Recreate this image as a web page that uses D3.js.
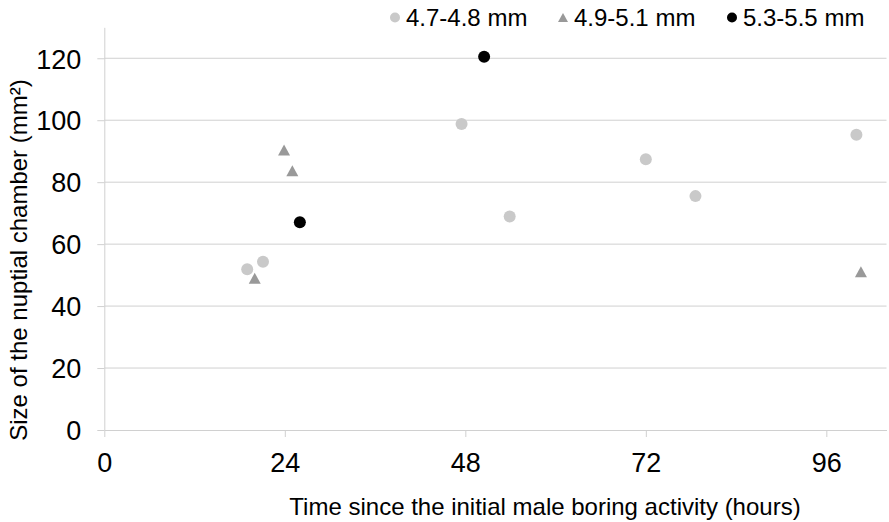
<!DOCTYPE html>
<html>
<head>
<meta charset="utf-8">
<script src="https://cdn.jsdelivr.net/npm/d3@7"></script>
<style>
body{margin:0;background:#fff}
text{font-family:"Liberation Sans",Arial,sans-serif;fill:#000}
</style>
</head>
<body>
<div id="chart"></div>
<script>
var width = 889
var height = 522

// series
var smallX = [19.0, 21.1, 47.5, 53.9, 72.0, 78.6, 100.0]
var smallY = [51.9, 54.3, 98.8, 68.9, 87.4, 75.5, 95.3]
var midX = [20.0, 23.9, 25.0, 100.6]
var midY = [49.0, 90.4, 83.7, 51.1]
var largeX = [26.0, 50.5]
var largeY = [67.1, 120.5]

var seriesNames = ['4.7-4.8 mm', '4.9-5.1 mm', '5.3-5.5 mm']
var xTicks = [0, 24, 48, 72, 96]
var yTicks = [0, 20, 40, 60, 80, 100, 120]

var x = d3.scaleLinear().domain([0, 104]).range([104.3, 886.5])
var y = d3.scaleLinear().domain([0, 130]).range([430, 27.3])

var svg = d3.select('#chart')
			.append('svg')
			.attr('width', width)
			.attr('height', height)

// gridlines
svg.append('g')
	.selectAll('line')
	.data(yTicks.filter(function(d){ return d > 0 }))
	.enter().append('line')
	.attr('x1', x(0)).attr('x2', x(104))
	.attr('y1', function(d){ return y(d) }).attr('y2', function(d){ return y(d) })
	.attr('stroke', '#d0d0d0')
	.attr('stroke-width', 1)

// axes
var xAxis = svg.append('g')
	.attr('transform', 'translate(0,' + y(0) + ')')
	.call(d3.axisBottom(x).tickValues(xTicks).tickSize(7).tickPadding(16).tickSizeOuter(0))
var yAxis = svg.append('g')
	.attr('transform', 'translate(' + x(0) + ',0)')
	.call(d3.axisLeft(y).tickValues(yTicks).tickSize(7).tickPadding(16).tickSizeOuter(0))

;[xAxis, yAxis].forEach(function(a){
	a.select('.domain').attr('stroke', '#d0d0d0')
	a.selectAll('.tick line').attr('stroke', '#d0d0d0')
	a.selectAll('.tick text').attr('font-size', 27).attr('fill', '#000')
		.attr('font-family', '"Liberation Sans",Arial,sans-serif')
})
yAxis.selectAll('.tick text').attr('dy', '0.36em')

// axis titles
svg.append('text')
	.attr('x', 545).attr('y', 515)
	.attr('text-anchor', 'middle')
	.attr('font-size', 24)
	.text('Time since the initial male boring activity (hours)')

svg.append('text')
	.attr('transform', 'translate(26.5,260) rotate(-90)')
	.attr('text-anchor', 'middle')
	.attr('font-size', 24)
	.text('Size of the nuptial chamber (mm²)')

function triangle(w, h){
	return 'M0,' + (-h/2) + 'L' + (w/2) + ',' + (h/2) + 'L' + (-w/2) + ',' + (h/2) + 'Z'
}

// points
svg.append('g').selectAll('circle')
	.data(d3.zip(smallX, smallY))
	.enter().append('circle')
	.attr('cx', function(d){ return x(d[0]) })
	.attr('cy', function(d){ return y(d[1]) })
	.attr('r', 6)
	.attr('fill', '#c9c9c9')

svg.append('g').selectAll('path')
	.data(d3.zip(midX, midY))
	.enter().append('path')
	.attr('transform', function(d){ return 'translate(' + x(d[0]) + ',' + y(d[1]) + ')' })
	.attr('d', triangle(12, 11))
	.attr('fill', '#999999')

svg.append('g').selectAll('circle')
	.data(d3.zip(largeX, largeY))
	.enter().append('circle')
	.attr('cx', function(d){ return x(d[0]) })
	.attr('cy', function(d){ return y(d[1]) })
	.attr('r', 6)
	.attr('fill', '#000')

// legend
var legendX = [395, 563, 732]
var legend = svg.append('g')
seriesNames.forEach(function(name, i){
	var g = legend.append('g').attr('transform', 'translate(' + legendX[i] + ',17.5)')
	if (i == 1) {
		g.append('path').attr('d', triangle(10, 9)).attr('fill', '#999999')
	} else {
		g.append('circle').attr('r', 5).attr('fill', i == 0 ? '#c9c9c9' : '#000')
	}
	g.append('text')
		.attr('x', 11).attr('y', 8.5)
		.attr('font-size', 24)
		.text(name)
})
</script>
</body>
</html>
